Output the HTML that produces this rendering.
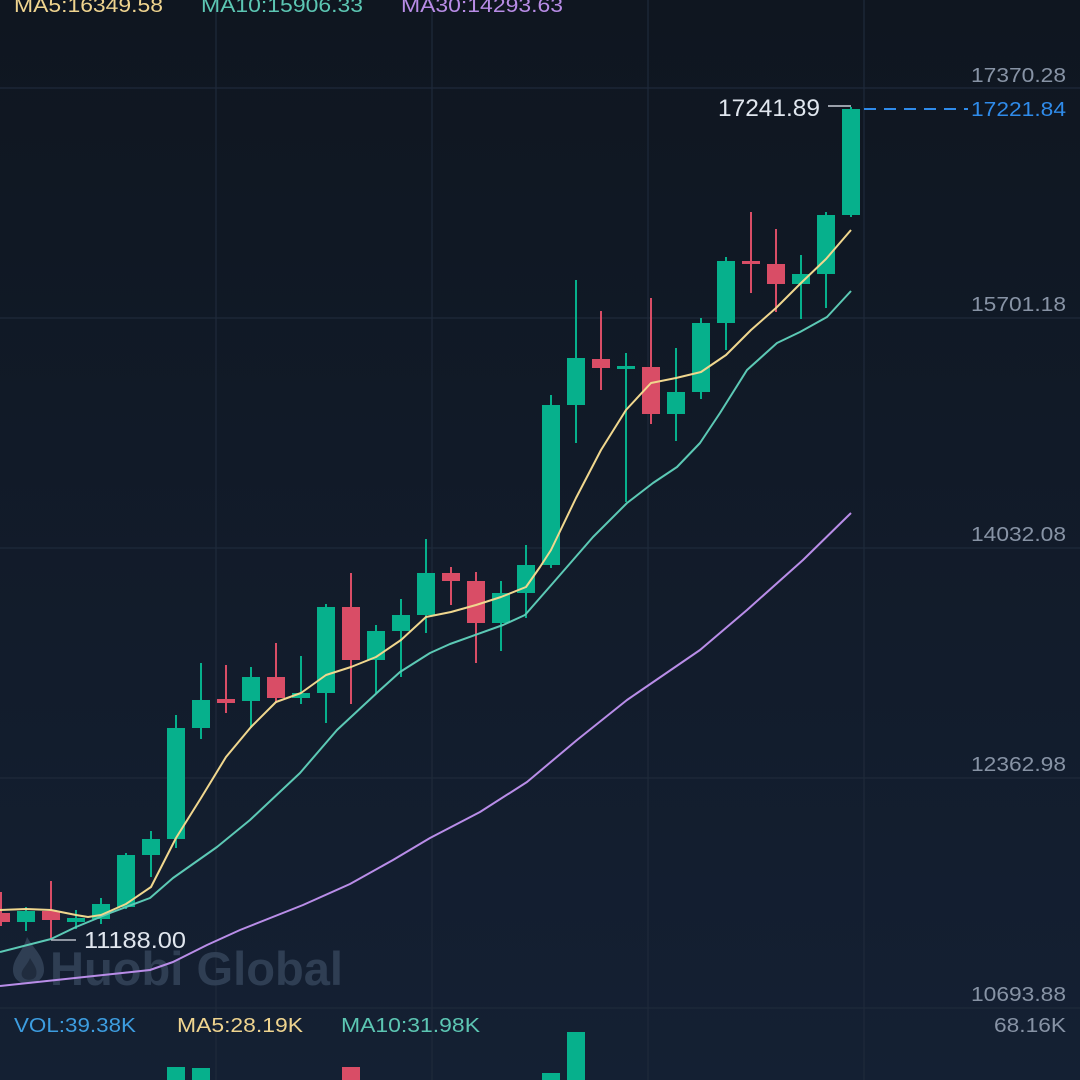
<!DOCTYPE html>
<html><head><meta charset="utf-8"><style>
html,body{margin:0;padding:0;background:#111a27;}
svg{display:block;}
text{font-family:"Liberation Sans",sans-serif;}
</style></head><body>
<svg width="1080" height="1080" viewBox="0 0 1080 1080" xmlns="http://www.w3.org/2000/svg">
<defs>
<linearGradient id="bg" x1="0" y1="0" x2="0" y2="1">
<stop offset="0" stop-color="#0f1620"/>
<stop offset="1" stop-color="#142033"/>
</linearGradient>
</defs>
<rect x="0" y="0" width="1080" height="1080" fill="url(#bg)"/>
<!-- grid -->
<g stroke="#1f2a3b" stroke-width="1.2">
<line x1="216" y1="0" x2="216" y2="1080"/>
<line x1="432" y1="0" x2="432" y2="1080"/>
<line x1="648" y1="0" x2="648" y2="1080"/>
<line x1="864" y1="0" x2="864" y2="1080"/>
<line x1="0" y1="88" x2="1080" y2="88"/>
<line x1="0" y1="318" x2="1080" y2="318"/>
<line x1="0" y1="548" x2="1080" y2="548"/>
<line x1="0" y1="778" x2="1080" y2="778"/>
<line x1="0" y1="1008" x2="1080" y2="1008"/>
</g>
<!-- watermark -->
<g fill="#34445a" opacity="0.85">
<path d="M27,937 C33,948 44,956 44,970 C44,978 37,984 28,984 C19,984 13,978 13,970 C13,958 23,952 27,937 Z"/>
<text x="50" y="985" font-size="47" font-weight="bold" textLength="293" lengthAdjust="spacingAndGlyphs">Huobi Global</text>
</g>
<path d="M30,958 C34,965 38,969 36,976 C34,981 24,981 22,976 C20,970 27,966 30,958 Z" fill="#1a2536" opacity="0.7"/>
<!-- MA30 -->
<polyline fill="none" stroke="#b98de8" stroke-width="2" stroke-linejoin="round" points="0,986 75,978 150,970 173,962 207,945 240,930 303,905 350,884 393,860 430,838 480,812 527,782 577,740 627,700 700,650 747,610 803,560 851,513"/>
<!-- candles -->
<g id="candles">
<g fill="#d94d66" stroke="#d94d66">
<line x1="1" y1="892" x2="1" y2="926" stroke-width="2"/><rect x="-8" y="913" width="18" height="9" stroke="none"/>
<line x1="51" y1="881" x2="51" y2="940" stroke-width="2"/><rect x="42" y="911" width="18" height="9" stroke="none"/>
<line x1="226" y1="665" x2="226" y2="713" stroke-width="2"/><rect x="217" y="699" width="18" height="4" stroke="none"/>
<line x1="276" y1="643" x2="276" y2="703" stroke-width="2"/><rect x="267" y="677" width="18" height="21" stroke="none"/>
<line x1="351" y1="573" x2="351" y2="704" stroke-width="2"/><rect x="342" y="607" width="18" height="53" stroke="none"/>
<line x1="451" y1="567" x2="451" y2="605" stroke-width="2"/><rect x="442" y="573" width="18" height="8" stroke="none"/>
<line x1="476" y1="572" x2="476" y2="663" stroke-width="2"/><rect x="467" y="581" width="18" height="42" stroke="none"/>
<line x1="601" y1="311" x2="601" y2="390" stroke-width="2"/><rect x="592" y="359" width="18" height="9" stroke="none"/>
<line x1="651" y1="298" x2="651" y2="424" stroke-width="2"/><rect x="642" y="367" width="18" height="47" stroke="none"/>
<line x1="751" y1="212" x2="751" y2="293" stroke-width="2"/><rect x="742" y="261" width="18" height="3" stroke="none"/>
<line x1="776" y1="229" x2="776" y2="312" stroke-width="2"/><rect x="767" y="264" width="18" height="20" stroke="none"/>
</g>
<g fill="#06b08c" stroke="#06b08c">
<line x1="26" y1="907" x2="26" y2="931" stroke-width="2"/><rect x="17" y="911" width="18" height="11" stroke="none"/>
<line x1="76" y1="910" x2="76" y2="929" stroke-width="2"/><rect x="67" y="918" width="18" height="4" stroke="none"/>
<line x1="101" y1="898" x2="101" y2="924" stroke-width="2"/><rect x="92" y="904" width="18" height="15" stroke="none"/>
<line x1="126" y1="853" x2="126" y2="909" stroke-width="2"/><rect x="117" y="855" width="18" height="52" stroke="none"/>
<line x1="151" y1="831" x2="151" y2="877" stroke-width="2"/><rect x="142" y="839" width="18" height="16" stroke="none"/>
<line x1="176" y1="715" x2="176" y2="848" stroke-width="2"/><rect x="167" y="728" width="18" height="111" stroke="none"/>
<line x1="201" y1="663" x2="201" y2="739" stroke-width="2"/><rect x="192" y="700" width="18" height="28" stroke="none"/>
<line x1="251" y1="667" x2="251" y2="728" stroke-width="2"/><rect x="242" y="677" width="18" height="24" stroke="none"/>
<line x1="301" y1="656" x2="301" y2="704" stroke-width="2"/><rect x="292" y="693" width="18" height="5" stroke="none"/>
<line x1="326" y1="604" x2="326" y2="723" stroke-width="2"/><rect x="317" y="607" width="18" height="86" stroke="none"/>
<line x1="376" y1="625" x2="376" y2="693" stroke-width="2"/><rect x="367" y="631" width="18" height="29" stroke="none"/>
<line x1="401" y1="599" x2="401" y2="677" stroke-width="2"/><rect x="392" y="615" width="18" height="16" stroke="none"/>
<line x1="426" y1="539" x2="426" y2="633" stroke-width="2"/><rect x="417" y="573" width="18" height="42" stroke="none"/>
<line x1="501" y1="581" x2="501" y2="651" stroke-width="2"/><rect x="492" y="593" width="18" height="30" stroke="none"/>
<line x1="526" y1="545" x2="526" y2="618" stroke-width="2"/><rect x="517" y="565" width="18" height="28" stroke="none"/>
<line x1="551" y1="395" x2="551" y2="568" stroke-width="2"/><rect x="542" y="405" width="18" height="160" stroke="none"/>
<line x1="576" y1="280" x2="576" y2="443" stroke-width="2"/><rect x="567" y="358" width="18" height="47" stroke="none"/>
<line x1="626" y1="353" x2="626" y2="502" stroke-width="2"/><rect x="617" y="366" width="18" height="3" stroke="none"/>
<line x1="676" y1="348" x2="676" y2="441" stroke-width="2"/><rect x="667" y="392" width="18" height="22" stroke="none"/>
<line x1="701" y1="318" x2="701" y2="399" stroke-width="2"/><rect x="692" y="323" width="18" height="69" stroke="none"/>
<line x1="726" y1="257" x2="726" y2="350" stroke-width="2"/><rect x="717" y="261" width="18" height="62" stroke="none"/>
<line x1="801" y1="255" x2="801" y2="319" stroke-width="2"/><rect x="792" y="274" width="18" height="10" stroke="none"/>
<line x1="826" y1="212" x2="826" y2="308" stroke-width="2"/><rect x="817" y="215" width="18" height="59" stroke="none"/>
<line x1="851" y1="107" x2="851" y2="217" stroke-width="2"/><rect x="842" y="109" width="18" height="106" stroke="none"/>
</g>
</g>
<!-- MA10 -->
<polyline fill="none" stroke="#5cc9b5" stroke-width="2" stroke-linejoin="round" points="0,952 51,939 76,927 110,913 150,898 173,878 217,847 250,820 300,773 337,730 380,690 400,672 430,653 450,644 503,625 525,615 553,583 593,537 627,503 653,483 677,467 700,443 720,413 747,370 777,343 800,332 827,317 851,291"/>
<!-- MA5 -->
<polyline fill="none" stroke="#f0d78e" stroke-width="2" stroke-linejoin="round" points="0,910 26,909 51,910 76,915 88,917 101,915 126,904 151,887 176,838 201,798 226,757 251,727 276,702 301,693 326,675 351,667 376,657 401,640 426,617 451,612 476,605 501,597 526,587 540,567 551,550 576,498 601,450 626,410 651,383 676,378 701,372 726,355 751,330 776,308 801,283 826,259 851,230"/>
<!-- volume bars -->
<g fill="#06b08c">
<rect x="167" y="1067" width="18" height="13"/>
<rect x="192" y="1068" width="18" height="12"/>
<rect x="542" y="1073" width="18" height="7"/>
<rect x="567" y="1032" width="18" height="48"/>
</g>
<rect x="342" y="1067" width="18" height="13" fill="#d94d66"/>
<!-- current price dashed -->
<line x1="864" y1="109" x2="968" y2="109" stroke="#2f8bea" stroke-width="2" stroke-dasharray="12 8"/>
<!-- high / low markers -->
<line x1="828" y1="106" x2="851" y2="106" stroke="#c8ced8" stroke-width="1.5"/>
<text x="718" y="116" font-size="24" fill="#e0e6ee" textLength="102" lengthAdjust="spacingAndGlyphs">17241.89</text>
<line x1="51" y1="940" x2="76" y2="940" stroke="#b8bec8" stroke-width="1.5"/>
<text x="84" y="948" font-size="23" fill="#e0e6ee" textLength="102" lengthAdjust="spacingAndGlyphs">11188.00</text>
<!-- axis labels -->
<g font-size="20" fill="#8793a5" text-anchor="end">
<text x="1066" y="82" textLength="95" lengthAdjust="spacingAndGlyphs">17370.28</text>
<text x="1066" y="311" textLength="95" lengthAdjust="spacingAndGlyphs">15701.18</text>
<text x="1066" y="541" textLength="95" lengthAdjust="spacingAndGlyphs">14032.08</text>
<text x="1066" y="771" textLength="95" lengthAdjust="spacingAndGlyphs">12362.98</text>
<text x="1066" y="1001" textLength="95" lengthAdjust="spacingAndGlyphs">10693.88</text>
<text x="1066" y="1032" textLength="72" lengthAdjust="spacingAndGlyphs">68.16K</text>
</g>
<text x="1066" y="116" font-size="20" fill="#2f8bea" text-anchor="end" textLength="95" lengthAdjust="spacingAndGlyphs">17221.84</text>
<!-- top MA legend -->
<g font-size="20">
<text x="14" y="12" fill="#efd48f" textLength="149" lengthAdjust="spacingAndGlyphs">MA5:16349.58</text>
<text x="201" y="12" fill="#5cc6b3" textLength="162" lengthAdjust="spacingAndGlyphs">MA10:15906.33</text>
<text x="401" y="12" fill="#b88ce6" textLength="162" lengthAdjust="spacingAndGlyphs">MA30:14293.63</text>
</g>
<!-- volume legend -->
<g font-size="20">
<text x="14" y="1032" fill="#3d9de0" textLength="122" lengthAdjust="spacingAndGlyphs">VOL:39.38K</text>
<text x="177" y="1032" fill="#efd48f" textLength="126" lengthAdjust="spacingAndGlyphs">MA5:28.19K</text>
<text x="341" y="1032" fill="#5cc6b3" textLength="139" lengthAdjust="spacingAndGlyphs">MA10:31.98K</text>
</g>
</svg>
</body></html>
